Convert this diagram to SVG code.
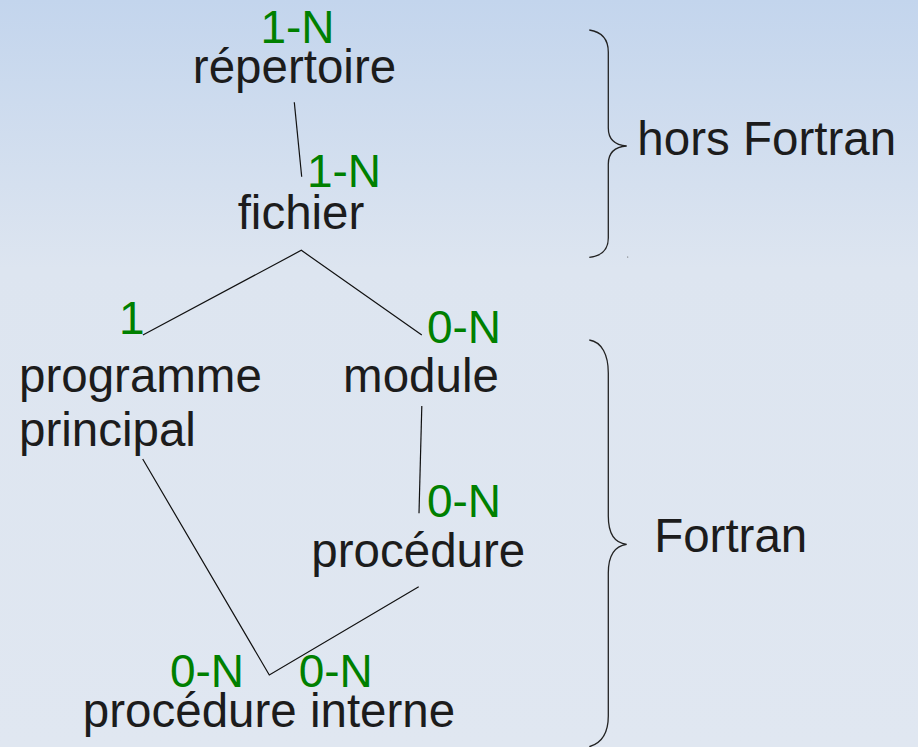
<svg xmlns="http://www.w3.org/2000/svg" width="918" height="747" viewBox="0 0 918 747">
  <defs>
    <linearGradient id="bg" x1="0" y1="0" x2="0" y2="1">
      <stop offset="0" stop-color="#c3d5ed"/>
      <stop offset="0.36" stop-color="#dde5f0"/>
      <stop offset="1" stop-color="#e0e7f1"/>
    </linearGradient>
    <style>
      .lbl { font-family: "Liberation Sans", Arial, sans-serif; font-size: 47.5px; fill: #1c1c1c; text-anchor: middle; }
      .card { font-family: "Liberation Sans", Arial, sans-serif; font-size: 46px; fill: #008000; text-anchor: middle; }
      .link { stroke: #111; stroke-width: 1.2; fill: none; }
      .brace { stroke: #222; stroke-width: 1.3; fill: none; }
    </style>
  </defs>

  <rect width="918" height="747" fill="url(#bg)"/>

  <!-- connectors -->
  <g id="connectors">
    <line class="link" x1="294.3" y1="102.3" x2="301.7" y2="176.7"/>
    <polyline class="link" points="142.9,335 301.3,250.3 421.8,335"/>
    <line class="link" x1="421.8" y1="406" x2="419" y2="513.3"/>
    <polyline class="link" points="142.7,459 269.3,675 418.7,586.7"/>
  </g>

  <!-- nodes -->
  <g id="repertoire">
    <text class="card" x="297.5" y="43">1-N</text>
    <text class="lbl" x="294.5" y="82.7">répertoire</text>
  </g>
  <g id="fichier">
    <text class="card" x="344" y="186.7">1-N</text>
    <text class="lbl" x="301" y="229">fichier</text>
  </g>
  <g id="programme-principal">
    <text class="card" x="131.7" y="333.5">1</text>
    <text class="lbl" x="19" y="391.5" style="text-anchor:start">programme</text>
    <text class="lbl" x="19" y="445.6" style="text-anchor:start">principal</text>
  </g>
  <g id="module">
    <text class="card" x="464" y="342.5">0-N</text>
    <text class="lbl" x="421" y="391.5">module</text>
  </g>
  <g id="procedure">
    <text class="card" x="464" y="516.7">0-N</text>
    <text class="lbl" x="418.3" y="566.7">procédure</text>
  </g>
  <g id="procedure-interne">
    <text class="card" x="207" y="687.3">0-N</text>
    <text class="card" x="335.7" y="687.3">0-N</text>
    <text class="lbl" x="269" y="727.3">procédure interne</text>
  </g>

  <!-- groupings -->
  <g id="hors-fortran">
    <path class="brace" d="M589.3,30 C602,32 608.3,40 608.3,52 L608.3,128 C608.3,138 614,145 626.7,146 C614,147 608.3,154 608.3,164 L608.3,238 C608.3,250 602,256 589.3,257.3"/>
    <circle cx="627.7" cy="257" r="0.6" fill="#555"/>
    <text class="lbl" x="766.7" y="155">hors Fortran</text>
  </g>
  <g id="fortran">
    <path class="brace" d="M589.3,340 C602,342 608.3,355 608.3,373 L608.3,516 C608.3,532 614,543 626.7,544.3 C614,546 608.3,556 608.3,573 L608.3,716 C608.3,732 602,743 589.3,746.7"/>
    <text class="lbl" x="730.7" y="551.7">Fortran</text>
  </g>
</svg>
